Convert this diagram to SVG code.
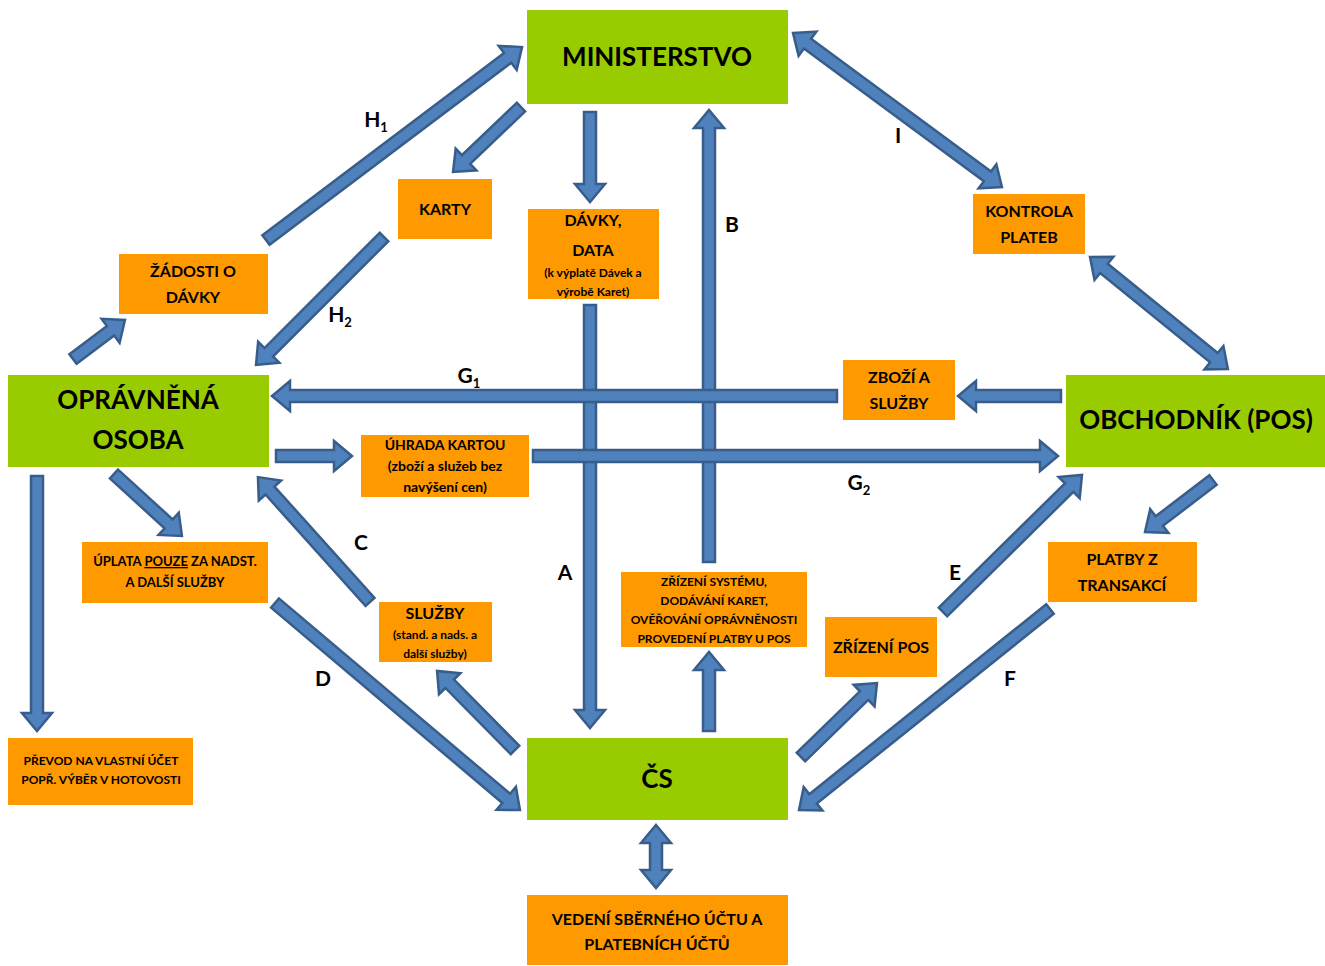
<svg xmlns="http://www.w3.org/2000/svg" width="1325" height="966" viewBox="0 0 1325 966">
<style>
.g{fill:#99CC00}
.o{fill:#FF9900}
.t{font-family:Lato,"Open Sans","Liberation Sans",sans-serif;font-weight:bold;fill:#000;text-anchor:middle}
.big{font-size:26px}
.m{font-size:16px}
.s{font-size:14px}
.xs{font-size:12px}
.lbl{font-family:Lato,"Open Sans","Liberation Sans",sans-serif;font-weight:bold;font-size:21px;fill:#000;text-anchor:middle}
.sub{font-size:13px}
.ar{fill:#4F81BD;stroke:#385D8A;stroke-width:2.5;stroke-linejoin:miter}
</style>
<rect width="1325" height="966" fill="#fff"/>
<g id="connectors">
<path class="ar" transform="translate(266,240) rotate(-37)" d="M0,-6 H302.6 V-15 L320.6,0 L302.6,15 V6 H0 Z"/>
<path class="ar" transform="translate(521,107) rotate(136.3)" d="M0,-6 H76 V-15 L94,0 L76,15 V6 H0 Z"/>
<path class="ar" transform="translate(590,112) rotate(90)" d="M0,-6 H72 V-15 L90,0 L72,15 V6 H0 Z"/>
<path class="ar" transform="translate(590,305) rotate(90)" d="M0,-6 H405 V-15 L423,0 L405,15 V6 H0 Z"/>
<path class="ar" transform="translate(709,562) rotate(-90)" d="M0,-6 H434 V-15 L452,0 L434,15 V6 H0 Z"/>
<path class="ar" transform="translate(793,33) rotate(36.4)" d="M0,0 L18,-15 V-6 H241.6 V-15 L259.6,0 L241.6,15 V6 H18 V15 Z"/>
<path class="ar" transform="translate(1090,257) rotate(39.1)" d="M0,0 L18,-15 V-6 H159.7 V-15 L177.7,0 L159.7,15 V6 H18 V15 Z"/>
<path class="ar" transform="translate(384,237) rotate(135)" d="M0,-6 H163 V-15 L181,0 L163,15 V6 H0 Z"/>
<path class="ar" transform="translate(73,359) rotate(-36.9)" d="M0,-6 H47 V-15 L65,0 L47,15 V6 H0 Z"/>
<path class="ar" transform="translate(837,396) rotate(180)" d="M0,-6 H547 V-15 L565,0 L547,15 V6 H0 Z"/>
<path class="ar" transform="translate(1061,396) rotate(180)" d="M0,-6 H85 V-15 L103,0 L85,15 V6 H0 Z"/>
<path class="ar" transform="translate(276,456)" d="M0,-6 H58 V-15 L76,0 L58,15 V6 H0 Z"/>
<path class="ar" transform="translate(533,456)" d="M0,-6 H507 V-15 L525,0 L507,15 V6 H0 Z"/>
<path class="ar" transform="translate(114,474) rotate(42.4)" d="M0,-6 H74 V-15 L92,0 L74,15 V6 H0 Z"/>
<path class="ar" transform="translate(370,602) rotate(-131.9)" d="M0,-6 H149.8 V-15 L167.8,0 L149.8,15 V6 H0 Z"/>
<path class="ar" transform="translate(37,476) rotate(90)" d="M0,-6 H237 V-15 L255,0 L237,15 V6 H0 Z"/>
<path class="ar" transform="translate(275,603) rotate(40.2)" d="M0,-6 H302.7 V-15 L320.7,0 L302.7,15 V6 H0 Z"/>
<path class="ar" transform="translate(515,750) rotate(-134.6)" d="M0,-6 H93 V-15 L111,0 L93,15 V6 H0 Z"/>
<path class="ar" transform="translate(709,731) rotate(-90)" d="M0,-6 H61 V-15 L79,0 L61,15 V6 H0 Z"/>
<path class="ar" transform="translate(656,825) rotate(90)" d="M0,0 L18,-15 V-6 H45 V-15 L63,0 L45,15 V6 H18 V15 Z"/>
<path class="ar" transform="translate(801,757) rotate(-44.2)" d="M0,-6 H88 V-15 L106,0 L88,15 V6 H0 Z"/>
<path class="ar" transform="translate(943,612) rotate(-44.6)" d="M0,-6 H177.2 V-15 L195.2,0 L177.2,15 V6 H0 Z"/>
<path class="ar" transform="translate(1050,609) rotate(141.3)" d="M0,-6 H303.6 V-15 L321.6,0 L303.6,15 V6 H0 Z"/>
<path class="ar" transform="translate(1213,480) rotate(142.6)" d="M0,-6 H67.6 V-15 L85.6,0 L67.6,15 V6 H0 Z"/>
<text class="lbl" x="376" y="127">H<tspan class="sub" dy="5">1</tspan></text>
<text class="lbl" x="340" y="322">H<tspan class="sub" dy="5">2</tspan></text>
<text class="lbl" x="898" y="143">I</text>
<text class="lbl" x="732" y="232">B</text>
<text class="lbl" x="469" y="383">G<tspan class="sub" dy="5">1</tspan></text>
<text class="lbl" x="859" y="490">G<tspan class="sub" dy="5">2</tspan></text>
<text class="lbl" x="565" y="580">A</text>
<text class="lbl" x="361" y="550">C</text>
<text class="lbl" x="323" y="686">D</text>
<text class="lbl" x="955" y="580">E</text>
<text class="lbl" x="1010" y="686">F</text>
</g>
<g id="ministerstvo"><rect class="g" x="527" y="10" width="261" height="94"/><text class="t big" x="657" y="66">MINISTERSTVO</text></g>
<g id="opravnena-osoba"><rect class="g" x="8" y="375" width="261" height="92"/><text class="t big" x="138" y="409">OPRÁVNĚNÁ</text><text class="t big" x="138" y="449">OSOBA</text></g>
<g id="obchodnik"><rect class="g" x="1066" y="375" width="259" height="92"/><text class="t big" x="1196" y="429">OBCHODNÍK (POS)</text></g>
<g id="cs"><rect class="g" x="527" y="738" width="261" height="82"/><text class="t big" x="657" y="788">ČS</text></g>
<g id="vedeni"><rect class="o" x="527" y="895" width="261" height="70"/><text class="t m" x="657" y="925">VEDENÍ SBĚRNÉHO ÚČTU A</text><text class="t m" x="657" y="950">PLATEBNÍCH ÚČTŮ</text></g>
<g id="karty"><rect class="o" x="398" y="179" width="94" height="60"/><text class="t m" x="445" y="215">KARTY</text></g>
<g id="davky"><rect class="o" x="528" y="209" width="131" height="90"/><text class="t m" x="593" y="226">DÁVKY,</text><text class="t m" x="593" y="256">DATA</text><text class="t xs" x="593" y="277">(k výplatě Dávek a</text><text class="t xs" x="593" y="296">výrobě Karet)</text></g>
<g id="zadosti"><rect class="o" x="119" y="254" width="149" height="60"/><text class="t m" x="193" y="277">ŽÁDOSTI O</text><text class="t m" x="193" y="303">DÁVKY</text></g>
<g id="kontrola"><rect class="o" x="973" y="194" width="112" height="60"/><text class="t m" x="1029" y="217">KONTROLA</text><text class="t m" x="1029" y="243">PLATEB</text></g>
<g id="zbozi"><rect class="o" x="843" y="360" width="112" height="60"/><text class="t m" x="899" y="383">ZBOŽÍ A</text><text class="t m" x="899" y="409">SLUŽBY</text></g>
<g id="uhrada"><rect class="o" x="361" y="435" width="168" height="62"/><text class="t s" x="445" y="450">ÚHRADA KARTOU</text><text class="t s" x="445" y="471">(zboží a služeb bez</text><text class="t s" x="445" y="492">navýšení cen)</text></g>
<g id="uplata"><rect class="o" x="82" y="542" width="186" height="61"/><text class="t xs" x="175" y="566" style="font-size:13px">ÚPLATA <tspan text-decoration="underline">POUZE</tspan> ZA NADST.</text><text class="t xs" x="175" y="587" style="font-size:13px">A DALŠÍ SLUŽBY</text></g>
<g id="sluzby"><rect class="o" x="379" y="602" width="113" height="60"/><text class="t m" x="435" y="619">SLUŽBY</text><text class="t xs" x="435" y="639">(stand. a nads. a</text><text class="t xs" x="435" y="658">další služby)</text></g>
<g id="zrizeni-systemu"><rect class="o" x="621" y="572" width="186" height="75"/><text class="t xs" x="714" y="586">ZŘÍZENÍ SYSTÉMU,</text><text class="t xs" x="714" y="605">DODÁVÁNÍ KARET,</text><text class="t xs" x="714" y="624">OVĚŘOVÁNÍ OPRÁVNĚNOSTI</text><text class="t xs" x="714" y="643">PROVEDENÍ PLATBY U POS</text></g>
<g id="zrizeni-pos"><rect class="o" x="825" y="617" width="112" height="60"/><text class="t m" x="881" y="653">ZŘÍZENÍ POS</text></g>
<g id="platby"><rect class="o" x="1048" y="542" width="149" height="60"/><text class="t m" x="1122" y="565">PLATBY Z</text><text class="t m" x="1122" y="591">TRANSAKCÍ</text></g>
<g id="prevod"><rect class="o" x="8" y="738" width="185" height="67"/><text class="t xs" x="101" y="765">PŘEVOD NA VLASTNÍ ÚČET</text><text class="t xs" x="101" y="784">POPŘ. VÝBĚR V HOTOVOSTI</text></g>
</svg>
